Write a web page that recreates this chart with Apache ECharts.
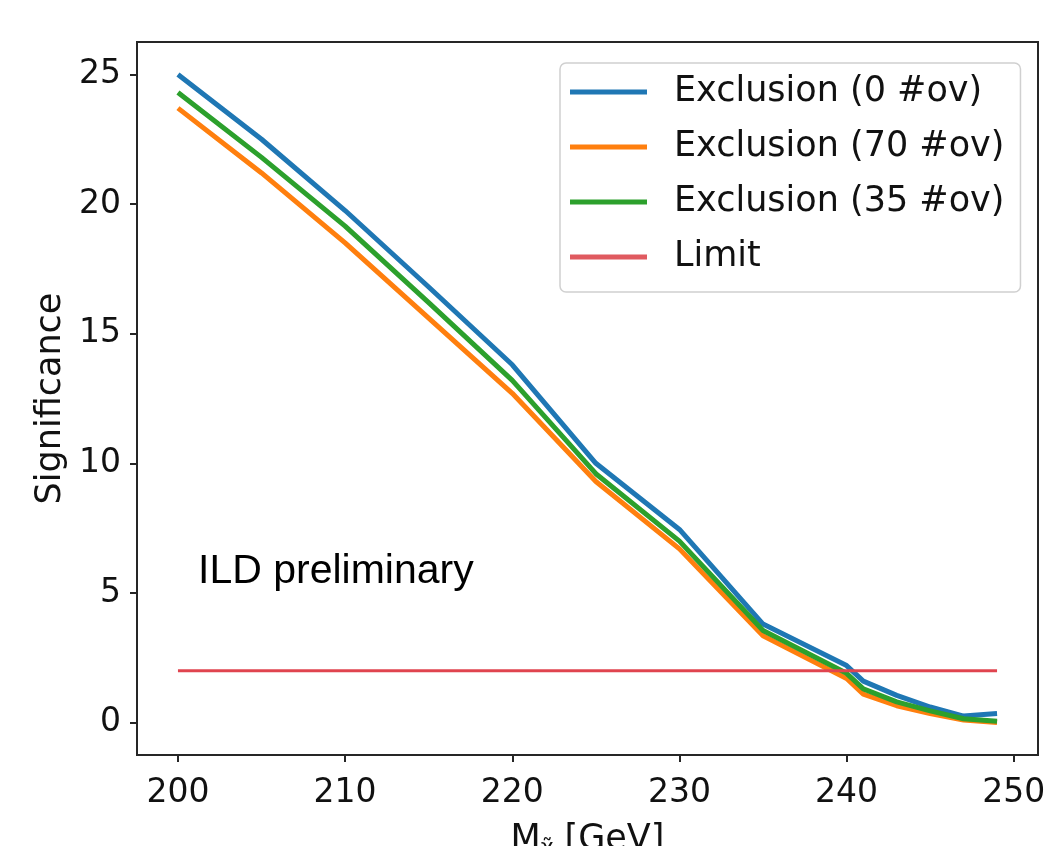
<!DOCTYPE html>
<html>
<head>
<meta charset="utf-8">
<script src="https://cdn.jsdelivr.net/npm/echarts@6/dist/echarts.min.js"></script>
<style>
html,body{margin:0;padding:0;background:#fff;}
#chart{width:1049px;height:846px;}
</style>
</head>
<body>
<div id="chart"></div>
<script>
// ---- data ----
var massPoints = [200, 205, 210, 215, 220, 225, 230, 235, 240, 241, 243, 245, 247, 249];
var excl0  = [25.0, 22.5, 19.75, 16.8, 13.8, 10.0, 7.45, 3.8, 2.2, 1.6, 1.05, 0.6, 0.25, 0.35];
var excl70 = [23.7, 21.2, 18.5, 15.6, 12.7, 9.3, 6.7, 3.35, 1.7, 1.1, 0.65, 0.35, 0.1, 0.0];
var excl35 = [24.3, 21.8, 19.15, 16.2, 13.2, 9.6, 7.0, 3.55, 1.9, 1.3, 0.8, 0.45, 0.15, 0.05];
var limitX = [200, 249];
var limitY = [2, 2];
var xTicks = [200, 210, 220, 230, 240, 250];
var yTicks = [0, 5, 10, 15, 20, 25];
var seriesNames = ['Exclusion (0 #ov)', 'Exclusion (70 #ov)', 'Exclusion (35 #ov)', 'Limit'];

function pairs(xs, ys) { return xs.map(function (x, i) { return [x, ys[i]]; }); }

var FONT = 'DejaVu Sans';
var chart = echarts.init(document.getElementById('chart'), null, {renderer: 'canvas'});
chart.setOption({
  animation: false,
  backgroundColor: '#ffffff',
  grid: {
    left: 137, right: 11, top: 42, bottom: 91,
    outerBoundsMode: 'none', containLabel: false,
    show: true, borderColor: '#262626', borderWidth: 2, backgroundColor: 'transparent'
  },
  xAxis: {
    type: 'value', min: 197.55, max: 251.45,
    splitLine: {show: false},
    axisLine: {show: false, onZero: false},
    axisTick: {show: true, inside: false, length: 7, lineStyle: {color: '#262626', width: 2}, customValues: xTicks},
    axisLabel: {customValues: xTicks, margin: 22, fontFamily: FONT, fontSize: 33, color: '#111'},
    name: 'M{sub|χ̃} [GeV]',
    nameLocation: 'middle', nameGap: 66,
    nameTextStyle: {fontFamily: FONT, fontSize: 35, color: '#111',
      rich: {sub: {fontFamily: FONT, fontSize: 22, color: '#111', padding: [16, 0, 0, 0]}}}
  },
  yAxis: {
    type: 'value', min: -1.25, max: 26.25,
    splitLine: {show: false},
    axisLine: {show: false, onZero: false},
    axisTick: {show: true, inside: false, length: 7, lineStyle: {color: '#262626', width: 2}, customValues: yTicks},
    axisLabel: {customValues: yTicks, margin: 16, fontFamily: FONT, fontSize: 33, color: '#111'},
    name: 'Significance',
    nameLocation: 'middle', nameGap: 64, nameRotate: 90,
    nameTextStyle: {fontFamily: FONT, fontSize: 35, color: '#111'}
  },
  legend: {
    orient: 'vertical', left: 560, top: 63,
    padding: [9, 16, 15, 10],
    backgroundColor: 'rgba(255,255,255,0.8)',
    borderColor: '#d0d0d0', borderWidth: 1.5, borderRadius: 6,
    itemWidth: 77, itemHeight: 5, itemGap: 15,
    icon: 'rect',
    data: seriesNames,
    textStyle: {fontFamily: FONT, fontSize: 35, color: '#111', lineHeight: 40, padding: [0, 0, 0, 22]}
  },
  series: [
    {name: seriesNames[0], type: 'line', data: pairs(massPoints, excl0), showSymbol: false,
     color: '#1f77b4', lineStyle: {width: 5, color: '#1f77b4'}, z: 2},
    {name: seriesNames[1], type: 'line', data: pairs(massPoints, excl70), showSymbol: false,
     color: '#ff7f0e', lineStyle: {width: 5, color: '#ff7f0e'}, z: 2},
    {name: seriesNames[2], type: 'line', data: pairs(massPoints, excl35), showSymbol: false,
     color: '#2ca02c', lineStyle: {width: 5, color: '#2ca02c'}, z: 2},
    {name: seriesNames[3], type: 'line', data: pairs(limitX, limitY), showSymbol: false,
     color: '#e05a60', lineStyle: {width: 3, color: '#e0444f'}, z: 3}
  ],
  graphic: [{
    type: 'text', left: 198, top: 551,
    style: {text: 'ILD preliminary', font: '41px "Liberation Sans", Arial, sans-serif', fill: '#000'}
  }]
});
</script>
</body>
</html>
